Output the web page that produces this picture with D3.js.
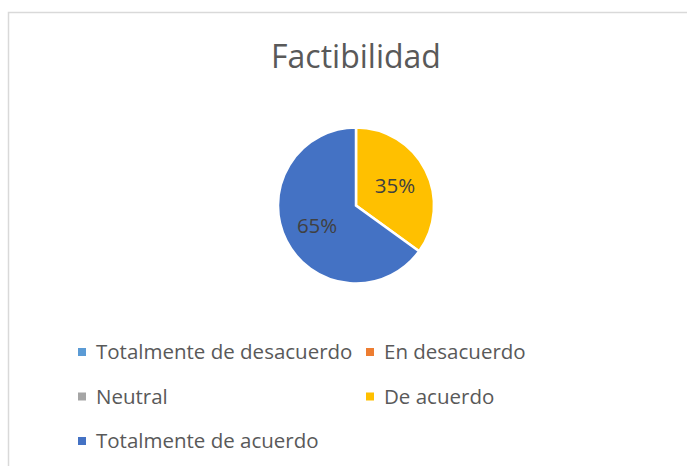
<!DOCTYPE html>
<html>
<head>
<meta charset="utf-8">
<script src="https://cdn.jsdelivr.net/npm/d3@7"></script>
<style>
  body { margin: 0; background: #fff; }
  svg { display: block; font-family: "Open Sans", "Liberation Sans", sans-serif; }
</style>
</head>
<body>
<div id="chart"></div>
<script>
// data
const categories = ["Totalmente de desacuerdo", "En desacuerdo", "Neutral", "De acuerdo", "Totalmente de acuerdo"];
const values = [0, 0, 0, 35, 65];
const colors = ["#5b9bd5", "#ed7d31", "#a5a5a5", "#ffc000", "#4472c4"];
const title = "Factibilidad";

const width = 687, height = 466;

const svg = d3.select("#chart")
  .append("svg")
  .attr("width", width)
  .attr("height", height);

// chart area border
svg.append("rect")
  .attr("x", 8.5).attr("y", 12.5)
  .attr("width", 700).attr("height", 480)
  .attr("fill", "#fff")
  .attr("stroke", "#d9d9d9")
  .attr("stroke-width", 1.5);

svg.append("text")
  .attr("x", 356).attr("y", 68)
  .attr("text-anchor", "middle")
  .attr("fill", "#595959")
  .style("font-size", "32px")
  .text(title);

const color = d3.scaleOrdinal().domain(categories).range(colors);
const radius = 78;

const pie = d3.pie().sort(null).value(d => d[1]);
const data_ready = pie(d3.zip(categories, values));
const arc = d3.arc().innerRadius(0).outerRadius(radius);
const labelArc = d3.arc().innerRadius(radius * 0.56).outerRadius(radius * 0.56);

const g = svg.append("g").attr("transform", "translate(356,205.5)");

g.selectAll("path")
  .data(data_ready.filter(d => d.data[1] > 0))
  .join("path")
  .attr("d", arc)
  .attr("fill", d => color(d.data[0]))
  .attr("stroke", "#fff")
  .style("stroke-width", "2.5px");

g.selectAll("text")
  .data(data_ready.filter(d => d.data[1] > 0))
  .join("text")
  .attr("transform", d => `translate(${labelArc.centroid(d)})`)
  .attr("text-anchor", "middle")
  .attr("dy", "0.35em")
  .attr("fill", "#404040")
  .style("font-size", "20.5px")
  .text(d => d.data[1] + "%");

// legend, 2 columns
const legend = svg.append("g");
const item = legend.selectAll("g")
  .data(categories)
  .join("g")
  .attr("transform", (d, i) => `translate(${i % 2 === 0 ? 78 : 366},${352 + Math.floor(i / 2) * 44.5})`);

item.append("rect")
  .attr("x", 0).attr("y", -4)
  .attr("width", 8).attr("height", 8)
  .attr("fill", d => color(d));

item.append("text")
  .attr("x", 18)
  .attr("dy", "0.35em")
  .attr("fill", "#595959")
  .style("font-size", "20.5px")
  .text(d => d);
</script>
</body>
</html>
